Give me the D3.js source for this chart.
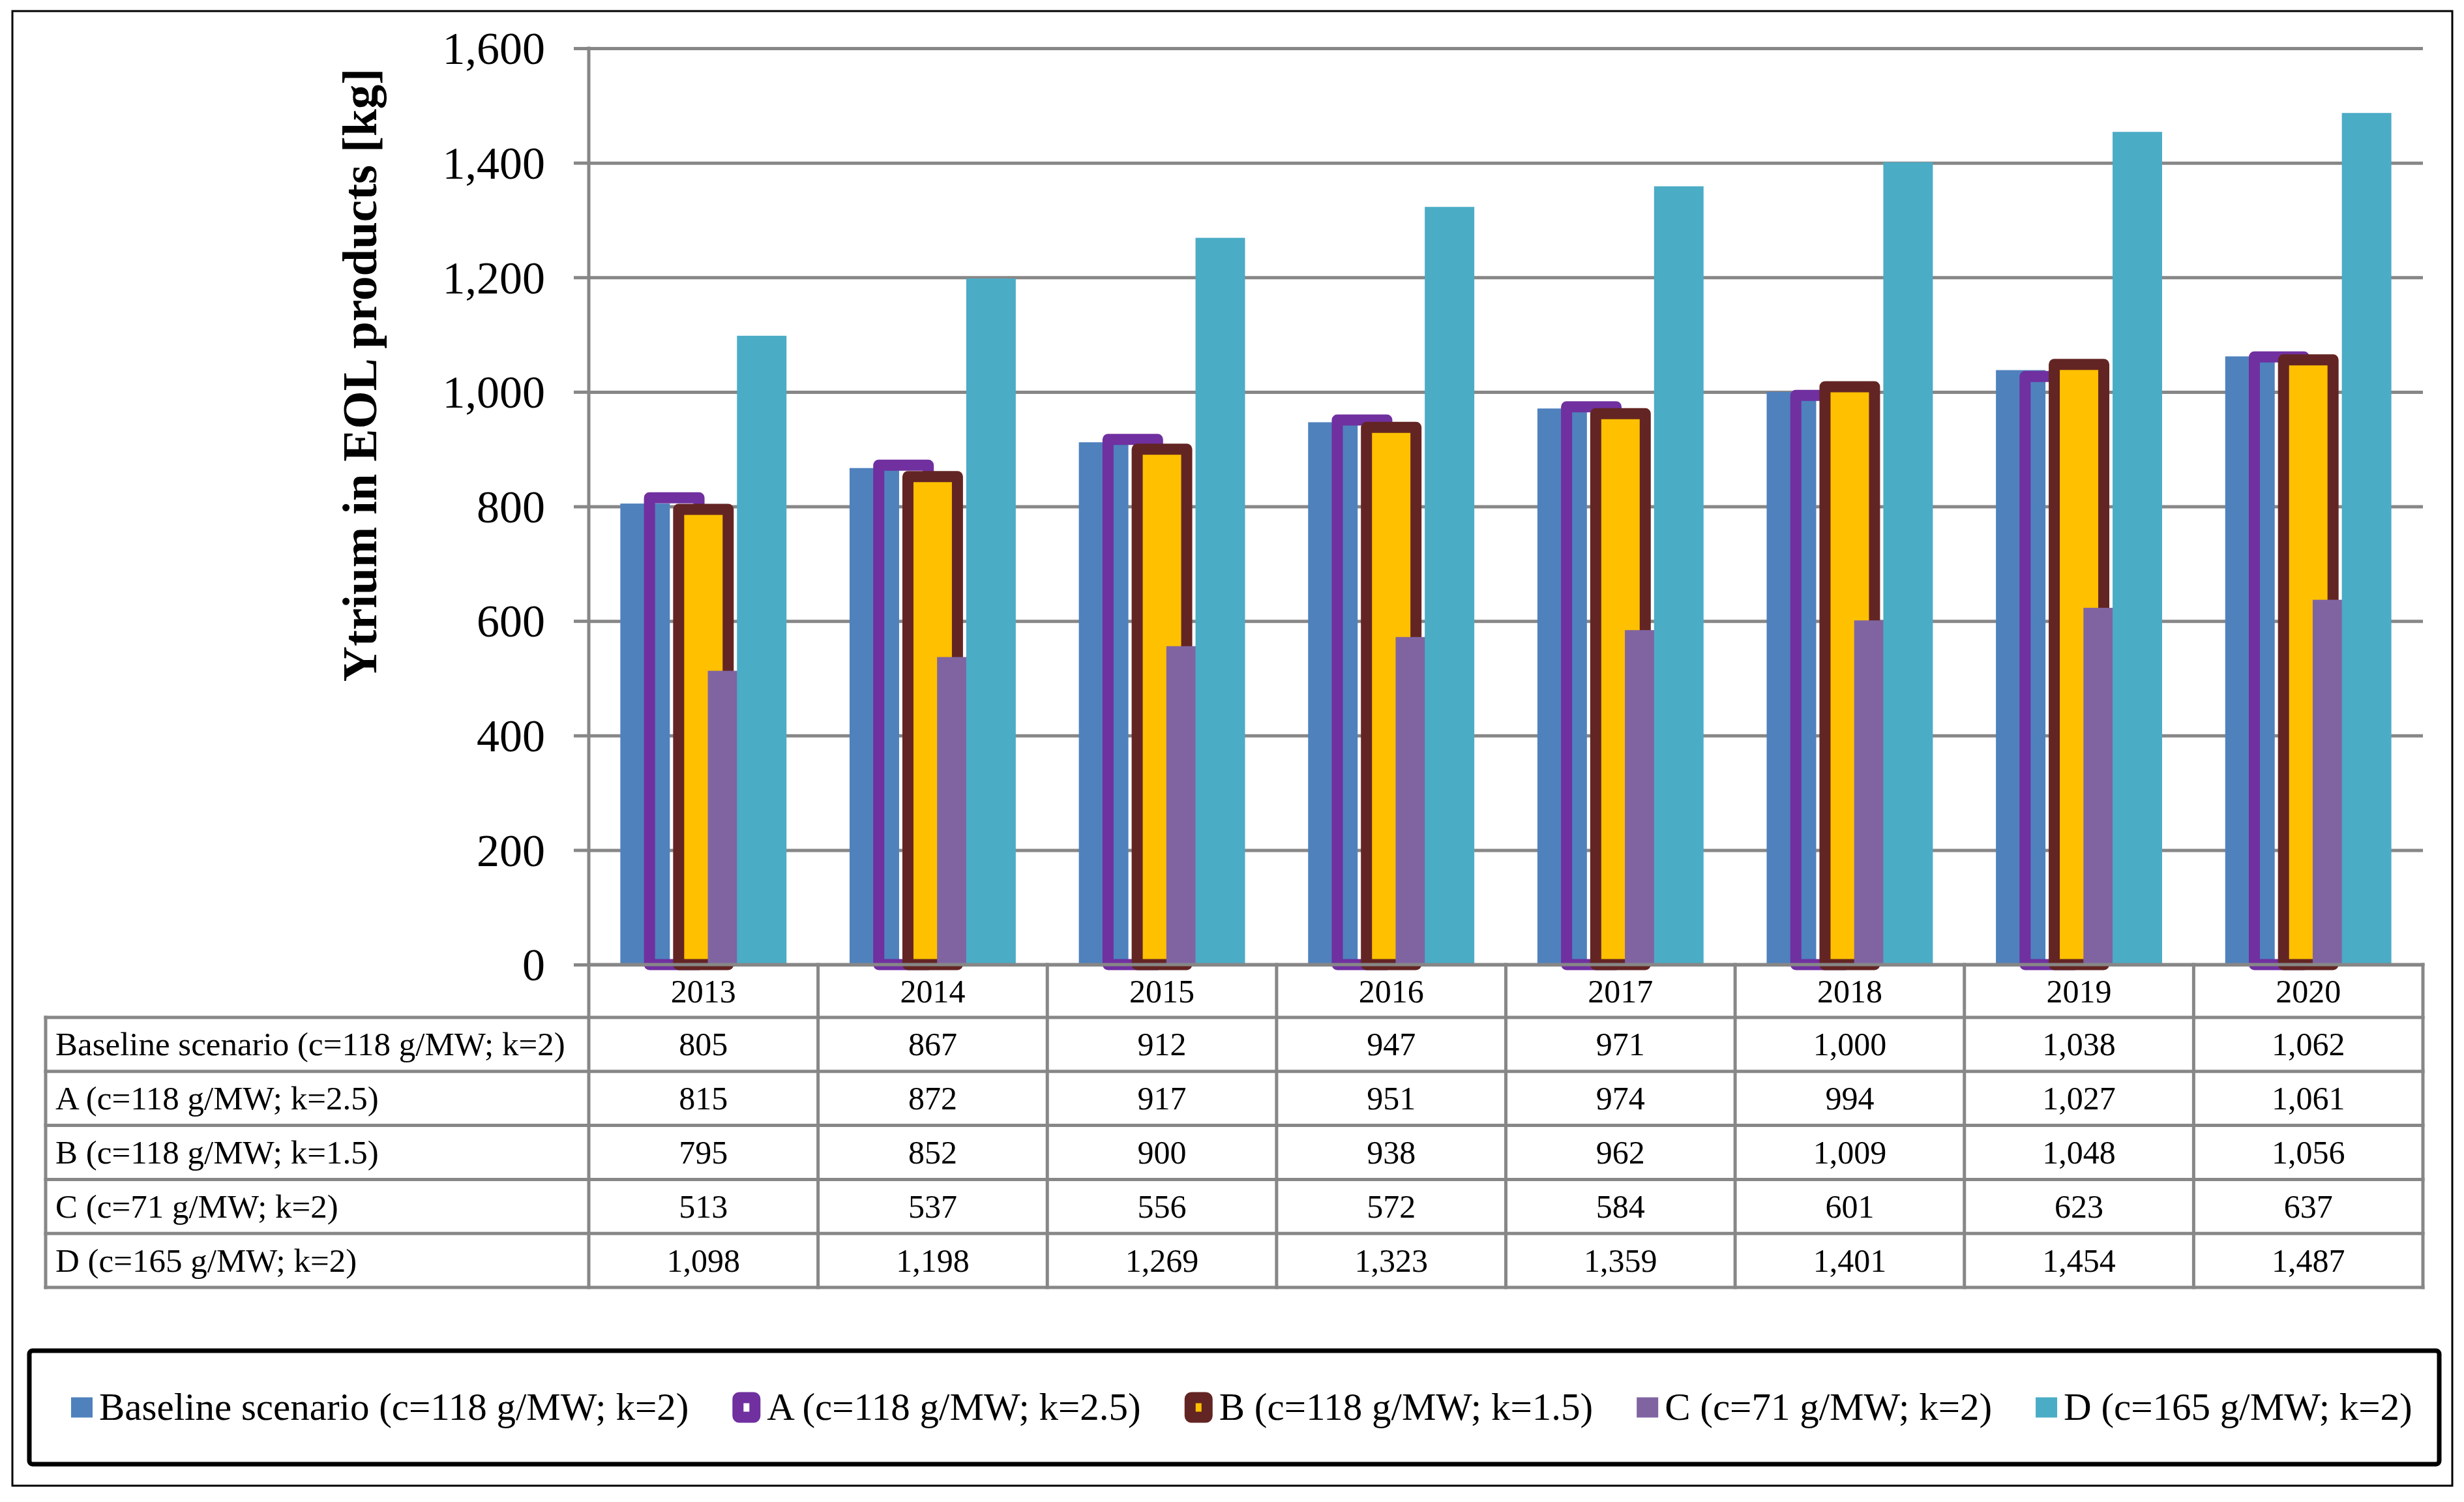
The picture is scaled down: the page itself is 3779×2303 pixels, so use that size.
<!DOCTYPE html>
<html>
<head>
<meta charset="utf-8">
<script src="https://cdn.jsdelivr.net/npm/d3@7.9.0/dist/d3.min.js"></script>
<style>
  html, body { margin: 0; padding: 0; background: #fff; }
  svg { display: block; font-family: "Liberation Serif", "Times New Roman", serif; }
</style>
</head>
<body>
<svg id="chart" width="3779" height="2303"></svg>
<script>
const years = ["2013", "2014", "2015", "2016", "2017", "2018", "2019", "2020"];
const seriesNames = [
  "Baseline scenario (c=118 g/MW; k=2)",
  "A (c=118 g/MW; k=2.5)",
  "B (c=118 g/MW; k=1.5)",
  "C (c=71 g/MW; k=2)",
  "D (c=165 g/MW; k=2)",
];
const baselineValues = [805, 867, 912, 947, 971, 1000, 1038, 1062];
const scenarioA = [815, 872, 917, 951, 974, 994, 1027, 1061];
const scenarioB = [795, 852, 900, 938, 962, 1009, 1048, 1056];
const scenarioC = [513, 537, 556, 572, 584, 601, 623, 637];
const scenarioD = [1098, 1198, 1269, 1323, 1359, 1401, 1454, 1487];
const yTicks = [0, 200, 400, 600, 800, 1000, 1200, 1400, 1600];

const seriesValues = [baselineValues, scenarioA, scenarioB, scenarioC, scenarioD];
const seriesStyle = [
  { fill: "#4F81BD", stroke: "none" },
  { fill: "none", stroke: "#7030A0" },
  { fill: "#FFC000", stroke: "#632523" },
  { fill: "#8064A2", stroke: "none" },
  { fill: "#4BACC6", stroke: "none" },
];

const GRID = "#878787";
const plot = { left: 903, right: 3716, top: 74, bottom: 1479 };
const tableLeft = 70;
const tableBottom = 1974;
const yearRowBottom = 1560;

const fmt = d3.format(",");
const svg = d3.select("#chart");

// outer frame
svg.append("rect")
  .attr("x", 19).attr("y", 17)
  .attr("width", 3742).attr("height", 2261)
  .attr("fill", "#fff").attr("stroke", "#000").attr("stroke-width", 3);

const x = d3.scaleBand().domain(years).range([plot.left, plot.right]);
const y = d3.scaleLinear().domain([0, 1600]).range([plot.bottom, plot.top]);

// gridlines
const grid = svg.append("g")
  .attr("transform", `translate(${plot.left},0)`)
  .call(d3.axisLeft(y).tickValues(yTicks).tickSize(-(plot.right - plot.left)).tickFormat(""));
grid.select(".domain").remove();
grid.selectAll(".tick line").attr("stroke", GRID).attr("stroke-width", 5);

// bars
const barW = x.bandwidth() * 0.216;
const step = x.bandwidth() * 0.1272;
const groupW = step * (seriesValues.length - 1) + barW;
const offset = d3.scaleLinear()
  .domain([0, seriesValues.length - 1])
  .range([(x.bandwidth() - groupW) / 2, (x.bandwidth() - groupW) / 2 + step * (seriesValues.length - 1)]);

seriesValues.forEach((vals, i) => {
  const st = seriesStyle[i];
  svg.append("g")
    .selectAll("rect")
    .data(vals)
    .join("rect")
    .attr("x", (d, j) => x(years[j]) + offset(i))
    .attr("y", (d) => y(d))
    .attr("width", barW)
    .attr("height", (d) => y(0) - y(d))
    .attr("fill", st.fill)
    .attr("stroke", st.stroke)
    .attr("stroke-width", st.stroke === "none" ? 0 : 17)
    .attr("stroke-linejoin", "round");
});

// y axis with tick labels
const yAxis = svg.append("g")
  .attr("transform", `translate(${plot.left},0)`)
  .call(d3.axisLeft(y).tickValues(yTicks).tickSize(23).tickPadding(44).tickFormat(fmt));
yAxis.select(".domain").remove();
yAxis.selectAll(".tick line").attr("stroke", GRID).attr("stroke-width", 5);
yAxis.selectAll(".tick text")
  .attr("font-family", "Liberation Serif")
  .attr("font-size", 70)
  .attr("fill", "#000")
  .attr("dy", "0.34em");

// y axis title
svg.append("text")
  .attr("transform", "translate(577,575) rotate(-90)")
  .attr("text-anchor", "middle")
  .attr("font-size", 75)
  .attr("font-weight", "bold")
  .text("Ytrium in EOL products [kg]");

// data table
const rowY = d3.scaleBand().domain(seriesNames).range([yearRowBottom, tableBottom]);
const table = svg.append("g");

// horizontal lines
table.append("line")
  .attr("x1", plot.left).attr("x2", plot.right)
  .attr("y1", plot.bottom).attr("y2", plot.bottom);
table.selectAll("line.row")
  .data(seriesNames)
  .join("line")
  .attr("class", "row")
  .attr("x1", tableLeft).attr("x2", plot.right)
  .attr("y1", (d) => rowY(d)).attr("y2", (d) => rowY(d));
table.append("line")
  .attr("x1", tableLeft).attr("x2", plot.right)
  .attr("y1", tableBottom).attr("y2", tableBottom);

// vertical lines
table.selectAll("line.col")
  .data(years.concat(["end"]))
  .join("line")
  .attr("class", "col")
  .attr("x1", (d) => (d === "end" ? plot.right : x(d)))
  .attr("x2", (d) => (d === "end" ? plot.right : x(d)))
  .attr("y1", (d) => (d === "2013" ? plot.top : plot.bottom))
  .attr("y2", tableBottom);
table.append("line")
  .attr("x1", tableLeft).attr("x2", tableLeft)
  .attr("y1", yearRowBottom).attr("y2", tableBottom);
table.selectAll("line")
  .attr("stroke", GRID).attr("stroke-width", 5).attr("stroke-linecap", "square");

// year labels
table.selectAll("text.year")
  .data(years)
  .join("text")
  .attr("class", "year")
  .attr("x", (d) => x(d) + x.bandwidth() / 2)
  .attr("y", 1537)
  .attr("text-anchor", "middle")
  .attr("font-size", 50)
  .text((d) => d);

// row labels and values
seriesNames.forEach((name, i) => {
  const base = rowY(name) + rowY.bandwidth() / 2 + 17;
  table.append("text")
    .attr("x", 85).attr("y", base)
    .attr("font-size", 51)
    .text(name);
  table.append("g")
    .selectAll("text")
    .data(seriesValues[i])
    .join("text")
    .attr("x", (d, j) => x(years[j]) + x.bandwidth() / 2)
    .attr("y", base)
    .attr("text-anchor", "middle")
    .attr("font-size", 50)
    .text((d) => fmt(d));
});

// legend
svg.append("rect")
  .attr("x", 45).attr("y", 2071)
  .attr("width", 3696).attr("height", 174)
  .attr("rx", 5)
  .attr("fill", "#fff").attr("stroke", "#000").attr("stroke-width", 7);

let lx = 109;
const legendMid = 2158;
seriesNames.forEach((name, i) => {
  const st = seriesStyle[i];
  let markerW;
  if (st.stroke === "none") {
    markerW = 33;
    svg.append("rect")
      .attr("x", lx).attr("y", legendMid - 15.5)
      .attr("width", 33).attr("height", 31)
      .attr("fill", st.fill);
  } else {
    markerW = 43;
    svg.append("rect")
      .attr("x", lx + 8.5).attr("y", legendMid - 15)
      .attr("width", 26).attr("height", 30)
      .attr("rx", 2)
      .attr("fill", st.fill === "none" ? "#fff" : st.fill)
      .attr("stroke", st.stroke)
      .attr("stroke-width", 17)
      .attr("stroke-linejoin", "round");
  }
  lx += markerW + 10;
  const t = svg.append("text")
    .attr("x", lx).attr("y", 2177)
    .attr("font-size", 59)
    .text(name);
  lx += t.node().getComputedTextLength() + 67;
});
</script>
</body>
</html>
